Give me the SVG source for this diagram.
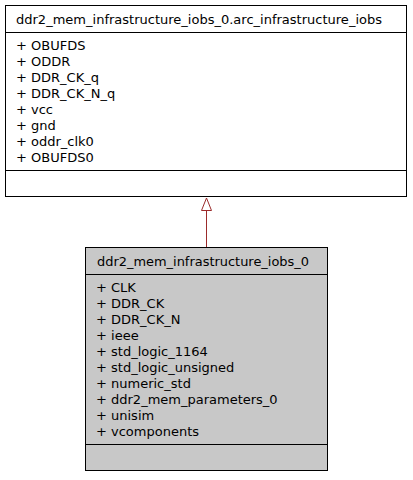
<svg xmlns="http://www.w3.org/2000/svg" width="413" height="480" viewBox="0 0 413 480">
<style>
text{font-family:"DejaVu Sans","Liberation Sans",sans-serif;font-size:13px;fill:#000}
.box{stroke:#000;stroke-width:1}
.edge{stroke:#9b2b2b;stroke-width:1;fill:none}
</style>
<rect width="413" height="480" fill="#fff"/>
<g id="connectors">
<line class="edge" x1="206.5" y1="210.5" x2="206.5" y2="247.5"/>
<polygon class="edge" fill="#fff" points="206.5,198 201.5,210.5 211.5,210.5"/>
</g>
<g id="node_arc">
<rect class="box" x="5.5" y="5.5" width="401" height="191" fill="#fff"/>
<line class="box" x1="5.5" y1="32.5" x2="406.5" y2="32.5"/>
<line class="box" x1="5.5" y1="170.5" x2="406.5" y2="170.5"/>
<text x="16" y="24" textLength="366" lengthAdjust="spacingAndGlyphs">ddr2_mem_infrastructure_iobs_0.arc_infrastructure_iobs</text>
<text x="16" y="50">+ OBUFDS</text>
<text x="16" y="66">+ ODDR</text>
<text x="16" y="82">+ DDR_CK_q</text>
<text x="16" y="98">+ DDR_CK_N_q</text>
<text x="16" y="114">+ vcc</text>
<text x="16" y="130">+ gnd</text>
<text x="16" y="146">+ oddr_clk0</text>
<text x="16" y="162">+ OBUFDS0</text>
</g>
<g id="node_entity">
<rect class="box" x="85.5" y="247.5" width="242" height="223" fill="#c8c8c8"/>
<line class="box" x1="85.5" y1="274.5" x2="327.5" y2="274.5"/>
<line class="box" x1="85.5" y1="444.5" x2="327.5" y2="444.5"/>
<text x="97" y="266" textLength="212" lengthAdjust="spacingAndGlyphs">ddr2_mem_infrastructure_iobs_0</text>
<text x="96" y="292">+ CLK</text>
<text x="96" y="308">+ DDR_CK</text>
<text x="96" y="324">+ DDR_CK_N</text>
<text x="96" y="340">+ ieee</text>
<text x="96" y="356">+ std_logic_1164</text>
<text x="96" y="372">+ std_logic_unsigned</text>
<text x="96" y="388">+ numeric_std</text>
<text x="96" y="404">+ ddr2_mem_parameters_0</text>
<text x="96" y="420">+ unisim</text>
<text x="96" y="436">+ vcomponents</text>
</g>
</svg>
